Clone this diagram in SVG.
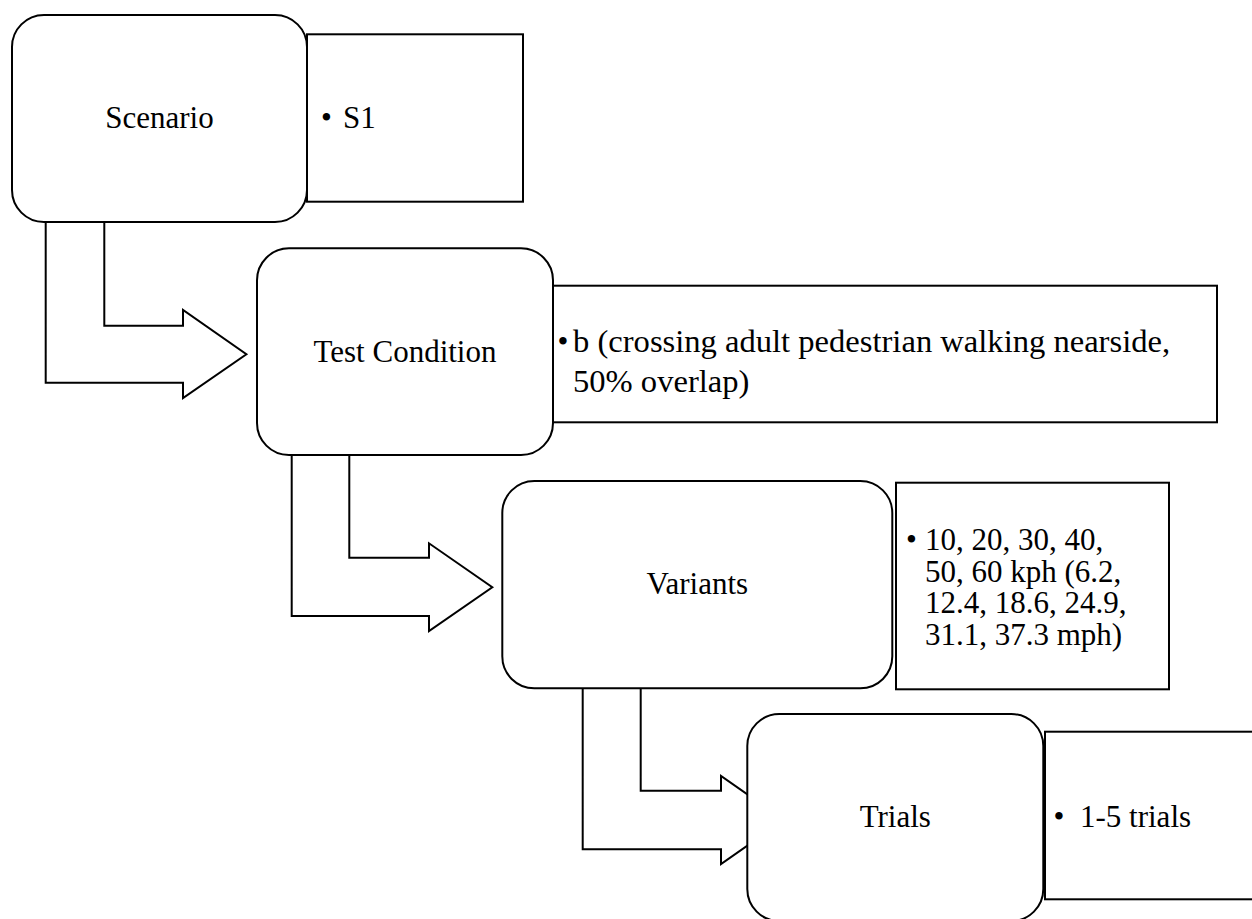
<svg xmlns="http://www.w3.org/2000/svg" width="1252" height="919" viewBox="0 0 1252 919">
<style>
.arrow{fill:#fff;stroke:#000;stroke-width:2;stroke-linejoin:miter}
.node{fill:#fff;stroke:#000;stroke-width:2}
.side{fill:#fff;stroke:#000;stroke-width:2}
.lbl{font-family:"Liberation Serif","Times New Roman",serif;font-size:31px;fill:#000}
.c{text-anchor:middle}
.b{font-size:32.6px}
.v{font-size:31px}
</style>
<rect width="1252" height="919" fill="#fff"/>
<g id="connectors">
<polygon class="arrow" points="45.7,200 104.3,200 104.3,325.7 183,325.7 183,310 246.4,354.3 183,398 183,382.7 45.7,382.7"/>
<polygon class="arrow" points="291.7,440 349.3,440 349.3,557.7 429,557.7 429,543.3 492.3,587.2 429,631 429,616 291.7,616"/>
<polygon class="arrow" points="582.7,670 640.7,670 640.7,790.7 721,790.7 721,776 784,820 721,864 721,849.3 582.7,849.3"/>
</g>
<g id="scenario">
<rect class="node" x="12" y="15" width="295" height="207" rx="32"/>
<text class="lbl c" x="159.5" y="128">Scenario</text>
</g>
<g id="scenario-detail">
<rect class="side" x="307" y="34.3" width="216" height="167.4"/>
<text class="lbl" x="321" y="128">•</text>
<text class="lbl" x="343" y="128">S1</text>
</g>
<g id="test-condition">
<rect class="node" x="257" y="248.3" width="296" height="206.7" rx="32"/>
<text class="lbl c" x="405" y="361.7">Test Condition</text>
</g>
<g id="test-condition-detail">
<rect class="side" x="553" y="285.7" width="664" height="136.6"/>
<text class="lbl" x="557.5" y="352">•</text>
<text class="lbl b" x="573" y="352">b (crossing adult pedestrian walking nearside,</text>
<text class="lbl b" x="573" y="391.7">50% overlap)</text>
</g>
<g id="variants">
<rect class="node" x="502.3" y="481" width="390" height="207.3" rx="32"/>
<text class="lbl c" x="697.3" y="594">Variants</text>
</g>
<g id="variants-detail">
<rect class="side" x="896" y="482.7" width="273" height="206.6"/>
<text class="lbl" x="906" y="550">•</text>
<text class="lbl v" x="925" y="550">10, 20, 30, 40,</text>
<text class="lbl v" x="925" y="581.6">50, 60 kph (6.2,</text>
<text class="lbl v" x="925" y="613.2">12.4, 18.6, 24.9,</text>
<text class="lbl v" x="925" y="644.8">31.1, 37.3 mph)</text>
</g>
<g id="trials">
<rect class="node" x="747.3" y="714" width="296" height="207" rx="32"/>
<text class="lbl c" x="895.3" y="827">Trials</text>
</g>
<g id="trials-detail">
<rect class="side" x="1045" y="731.7" width="220" height="167.6"/>
<text class="lbl" x="1053.5" y="827">•</text>
<text class="lbl" x="1080" y="827">1-5 trials</text>
</g>
</svg>
